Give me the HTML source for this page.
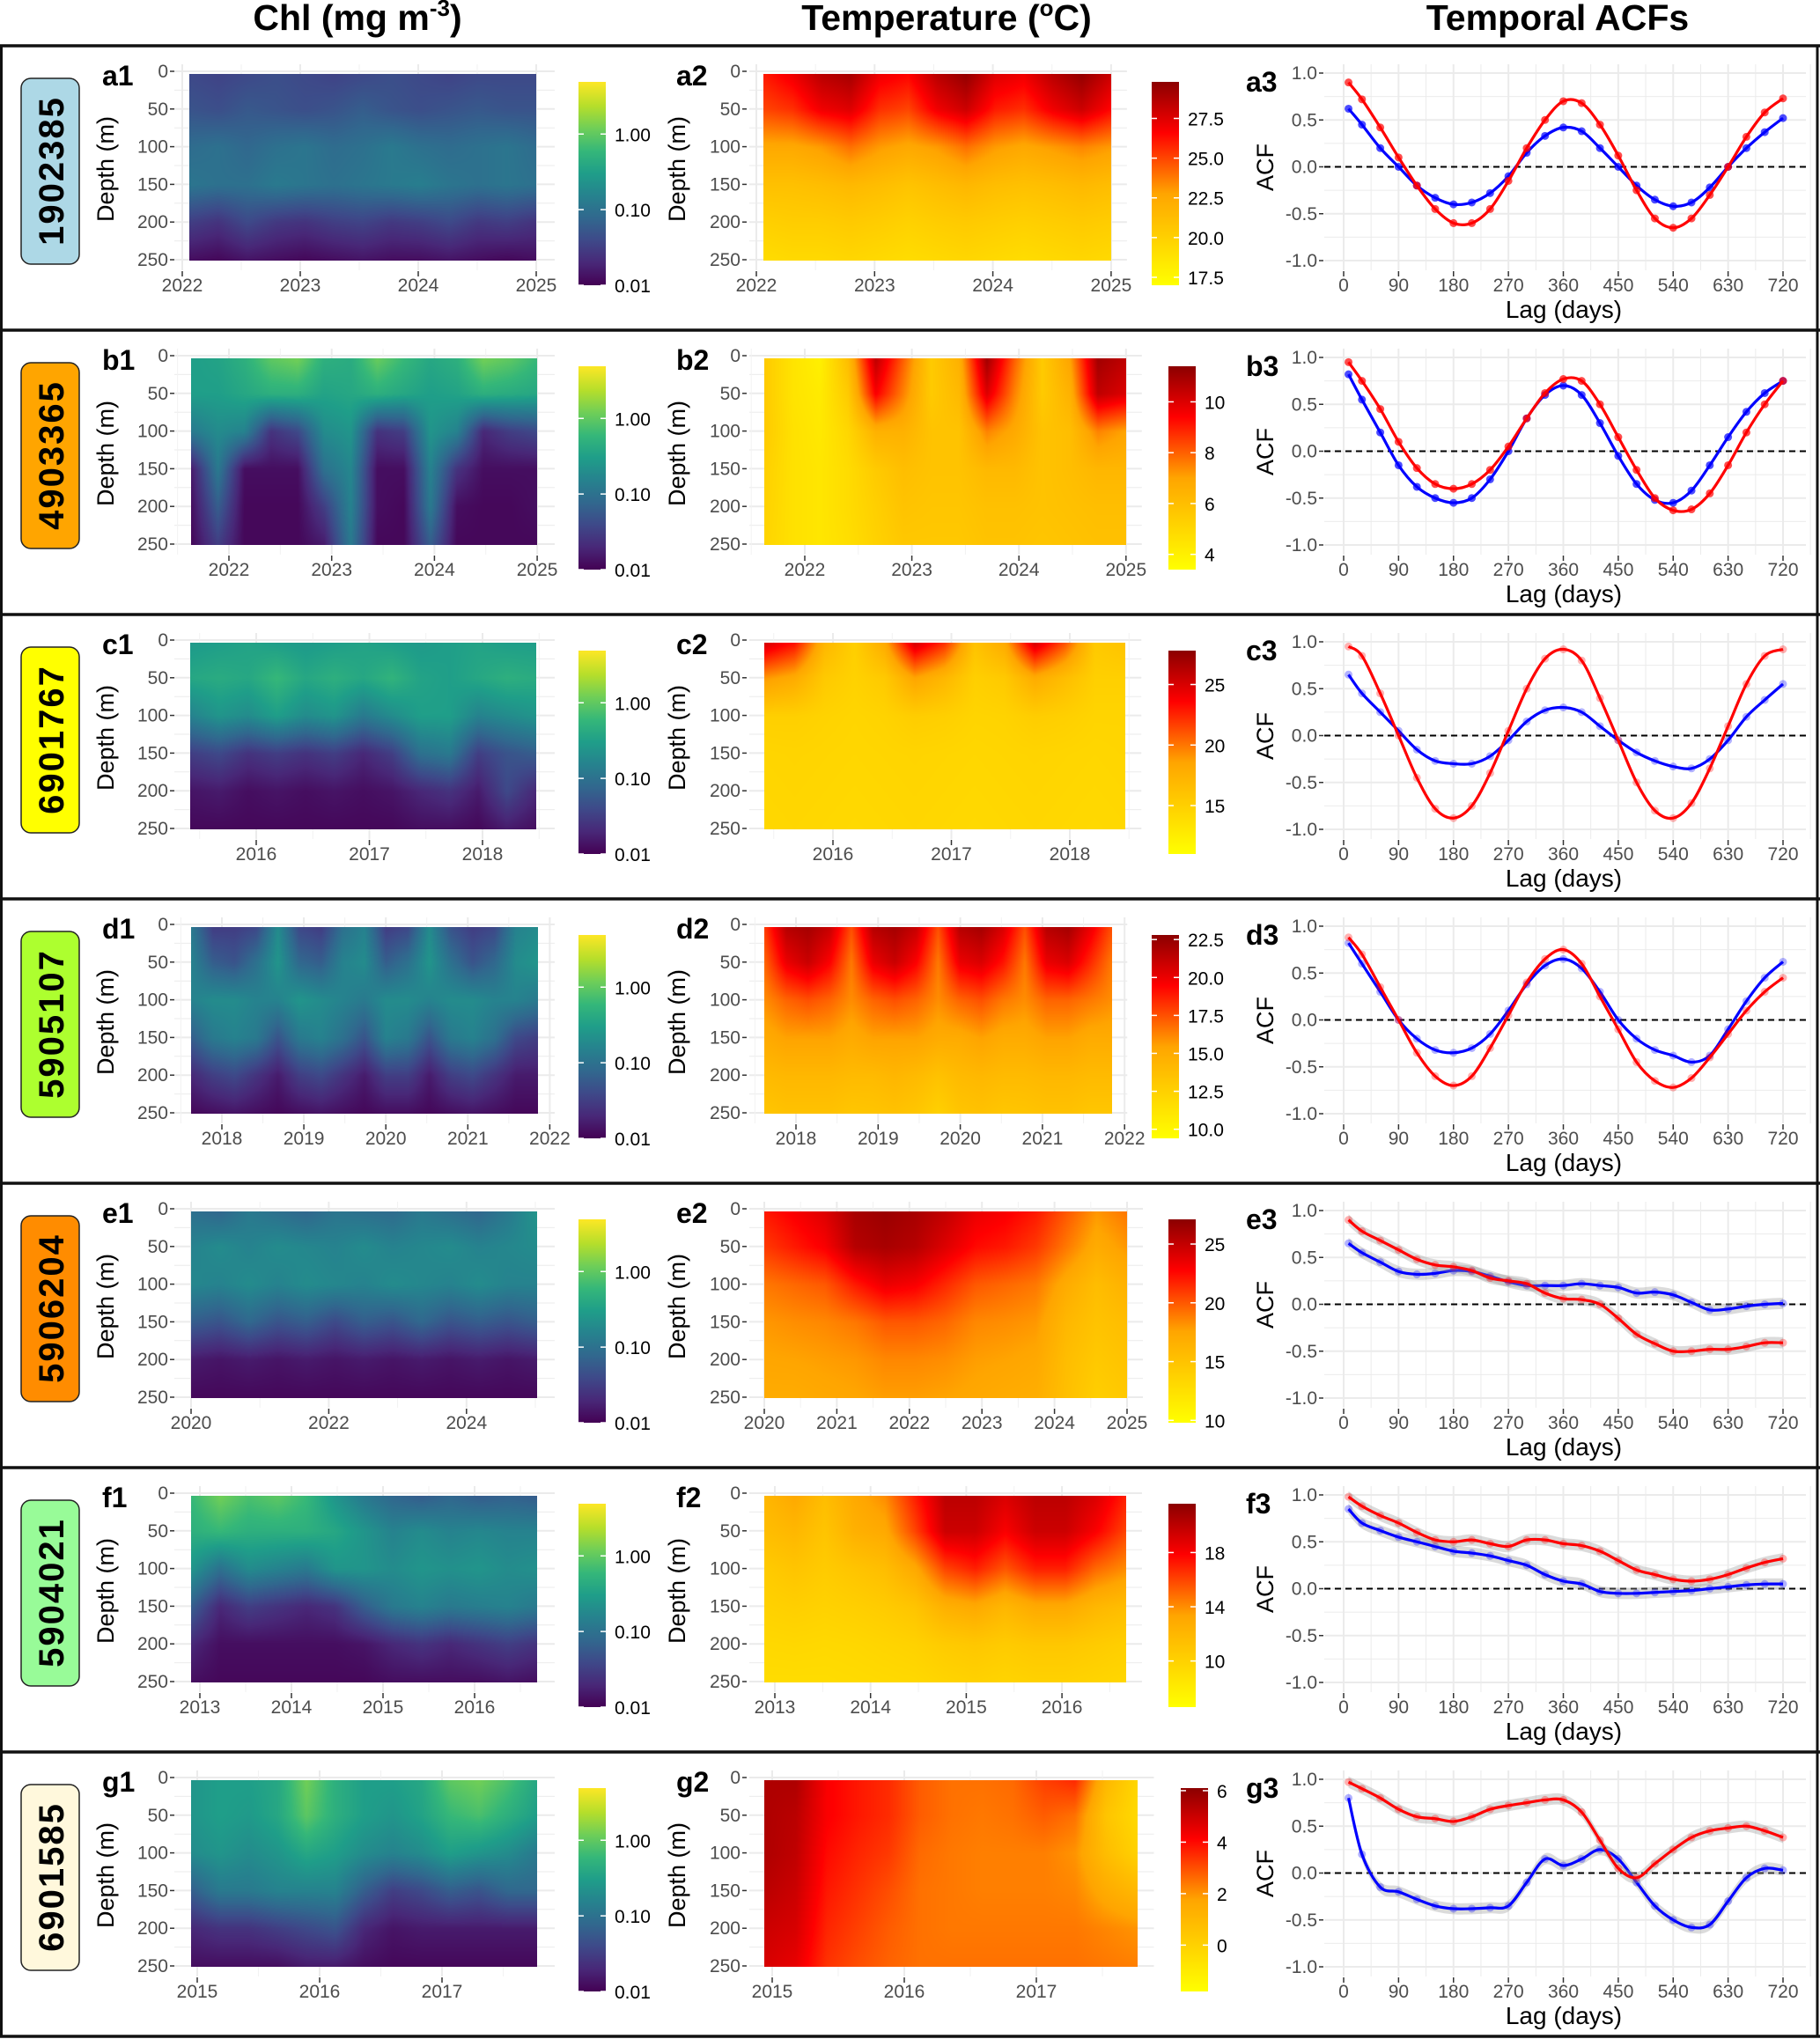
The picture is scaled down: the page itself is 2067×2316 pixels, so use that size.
<!DOCTYPE html>
<html><head><meta charset="utf-8">
<style>
html,body{margin:0;padding:0;background:#fff;}
#wrap{position:relative;width:2067px;height:2316px;overflow:hidden;font-family:"Liberation Sans",sans-serif;}
#fig{position:absolute;left:0;top:0;}
canvas{position:absolute;}
</style></head>
<body>
<div id="wrap">
<svg id="fig" width="2067" height="2316" xmlns="http://www.w3.org/2000/svg">
<defs>
<linearGradient id="gVir" x1="0" y1="1" x2="0" y2="0">
<stop offset="0" stop-color="#440154"/><stop offset="0.11" stop-color="#482878"/><stop offset="0.22" stop-color="#3e4989"/><stop offset="0.33" stop-color="#31688e"/><stop offset="0.44" stop-color="#26828e"/><stop offset="0.55" stop-color="#1f9e89"/><stop offset="0.66" stop-color="#35b779"/><stop offset="0.77" stop-color="#6ece58"/><stop offset="0.88" stop-color="#b5de2b"/><stop offset="1" stop-color="#fde725"/>
</linearGradient>
<linearGradient id="gHeat" x1="0" y1="1" x2="0" y2="0">
<stop offset="0" stop-color="#ffff00"/><stop offset="0.45" stop-color="#ffa500"/><stop offset="0.75" stop-color="#ff0000"/><stop offset="1" stop-color="#8b0000"/>
</linearGradient>
</defs>
<text x="406" y="34" text-anchor="middle" font-size="41" font-weight="bold">Chl (mg m<tspan font-size="26" dy="-16">-3</tspan><tspan dy="16">)</tspan></text>
<text x="1075" y="34" text-anchor="middle" font-size="41" font-weight="bold">Temperature (<tspan font-size="26" dy="-16">o</tspan><tspan dy="16">C)</tspan></text>
<text x="1769" y="34" text-anchor="middle" font-size="41" font-weight="bold">Temporal ACFs</text>
</svg>
</div>
<script>
// ---------- DATA ----------
const floatIds = ["1902385","4903365","6901767","5905107","5906204","5904021","6901585"];
const depthLevels = [5,50,100,150,200,250];
const chlA = [
[-1.4,-1.45,-1.4,-1.35,-1.4,-1.45,-1.4,-1.35,-1.4,-1.45,-1.4,-1.4,-1.4],
[-1.3,-1.35,-1.25,-1.3,-1.35,-1.3,-1.2,-1.3,-1.35,-1.3,-1.25,-1.3,-1.3],
[-1.05,-1.0,-1.1,-1.0,-0.95,-1.05,-1.0,-0.9,-1.0,-1.05,-1.0,-0.95,-1.05],
[-0.95,-1.0,-1.0,-0.9,-0.95,-1.0,-0.95,-0.9,-0.85,-0.95,-1.0,-0.95,-1.0],
[-1.5,-1.6,-1.4,-1.55,-1.6,-1.5,-1.45,-1.55,-1.5,-1.4,-1.55,-1.5,-1.6],
[-1.9,-1.95,-1.85,-1.9,-1.95,-1.9,-1.85,-1.9,-1.9,-1.85,-1.9,-1.95,-1.9]];
const chlB = [
[-0.5,-0.45,-0.3,0.0,0.1,-0.3,-0.35,0.05,-0.2,-0.4,-0.3,0.1,0.0,-0.2],
[-0.5,-0.5,-0.4,-0.3,-0.3,-0.45,-0.4,-0.3,-0.4,-0.5,-0.45,-0.3,-0.35,-0.4],
[-0.9,-0.7,-0.8,-1.6,-1.4,-0.7,-0.6,-1.6,-1.5,-0.6,-0.8,-1.7,-1.5,-1.4],
[-1.8,-0.9,-1.9,-1.9,-1.9,-1.0,-0.75,-1.9,-1.9,-0.8,-1.6,-1.9,-1.9,-1.9],
[-1.9,-1.2,-1.95,-1.95,-1.95,-1.5,-0.8,-1.9,-1.95,-0.9,-1.9,-1.95,-1.95,-1.9],
[-1.95,-1.5,-1.95,-1.95,-1.95,-1.8,-0.9,-1.95,-1.95,-1.2,-1.95,-1.95,-1.95,-1.95]];
const chlC = [
[-0.55,-0.5,-0.45,-0.5,-0.55,-0.5,-0.45,-0.5,-0.55,-0.5,-0.45,-0.5,-0.5],
[-0.4,-0.35,-0.4,-0.2,-0.4,-0.3,-0.4,-0.25,-0.45,-0.5,-0.4,-0.3,-0.35],
[-0.8,-0.6,-0.7,-0.5,-0.7,-0.6,-0.9,-0.7,-0.5,-0.5,-0.8,-0.7,-0.6],
[-1.5,-1.4,-1.6,-1.5,-1.6,-1.5,-1.7,-1.5,-1.0,-0.9,-1.5,-1.3,-1.2],
[-1.85,-1.8,-1.9,-1.85,-1.9,-1.85,-1.9,-1.85,-1.7,-1.6,-1.8,-1.4,-1.7],
[-1.95,-1.95,-1.95,-1.95,-1.95,-1.95,-1.95,-1.95,-1.9,-1.9,-1.95,-1.8,-1.9]];
const chlD = [
[-0.9,-1.5,-1.5,-1.4,-0.7,-1.4,-1.5,-1.0,-0.8,-1.5,-1.4,-0.7,-1.3,-1.5,-1.4,-0.8,-0.7],
[-0.8,-1.2,-1.3,-1.0,-0.6,-1.1,-1.2,-0.8,-0.7,-1.2,-1.0,-0.6,-1.0,-1.3,-1.1,-0.7,-0.6],
[-0.8,-0.7,-0.7,-0.8,-0.8,-0.6,-0.7,-0.8,-0.9,-0.7,-0.7,-0.8,-0.7,-0.7,-0.8,-0.8,-0.9],
[-1.2,-0.9,-0.8,-0.9,-1.3,-0.9,-0.8,-1.0,-1.3,-0.8,-0.9,-1.3,-0.9,-0.8,-1.0,-1.4,-1.5],
[-1.7,-1.5,-1.4,-1.6,-1.8,-1.5,-1.4,-1.6,-1.8,-1.5,-1.5,-1.8,-1.5,-1.4,-1.6,-1.8,-1.8],
[-1.95,-1.9,-1.85,-1.9,-1.95,-1.9,-1.85,-1.9,-1.95,-1.9,-1.9,-1.95,-1.9,-1.85,-1.9,-1.95,-1.95]];
const chlE = [
[-1.0,-1.1,-0.9,-1.0,-1.1,-0.95,-1.0,-1.05,-0.9,-1.0,-1.1,-0.9,-0.6],
[-0.8,-0.7,-0.8,-0.7,-0.75,-0.8,-0.7,-0.8,-0.75,-0.7,-0.8,-0.75,-0.7],
[-0.75,-0.8,-0.7,-0.8,-0.7,-0.75,-0.8,-0.7,-0.75,-0.8,-0.7,-0.8,-0.8],
[-1.2,-1.3,-1.1,-1.3,-1.2,-1.4,-1.2,-1.3,-1.1,-1.3,-1.2,-1.3,-1.2],
[-1.8,-1.85,-1.8,-1.85,-1.8,-1.85,-1.8,-1.85,-1.8,-1.85,-1.8,-1.85,-1.8],
[-1.95,-1.95,-1.95,-1.95,-1.95,-1.95,-1.95,-1.95,-1.95,-1.95,-1.95,-1.95,-1.95]];
const chlF = [
[-0.2,0.1,-0.1,0.0,-0.2,-0.6,-0.9,-1.1,-1.2,-1.1,-1.2,-1.15,-1.2],
[-0.3,-0.2,-0.3,-0.3,-0.3,-0.4,-0.6,-0.8,-0.7,-0.8,-0.75,-0.8,-0.8],
[-0.6,-1.0,-0.7,-0.8,-0.9,-0.6,-0.6,-0.7,-0.6,-0.65,-0.6,-0.7,-0.65],
[-1.2,-1.7,-1.5,-1.6,-1.7,-1.6,-1.2,-0.9,-0.8,-0.9,-0.85,-0.8,-0.9],
[-1.7,-1.9,-1.9,-1.9,-1.9,-1.9,-1.85,-1.7,-1.6,-1.7,-1.6,-1.5,-1.6],
[-1.9,-1.95,-1.95,-1.95,-1.95,-1.95,-1.95,-1.9,-1.9,-1.9,-1.9,-1.85,-1.9]];
const chlG = [
[-0.6,-0.5,-0.5,-0.4,0.1,-0.3,-0.5,-0.5,-0.4,0.0,0.1,-0.1,-0.4],
[-0.6,-0.5,-0.55,-0.4,0.0,-0.3,-0.5,-0.6,-0.45,-0.2,-0.1,-0.3,-0.5],
[-0.7,-0.6,-0.7,-0.6,-0.4,-0.5,-0.7,-0.8,-0.7,-0.5,-0.6,-0.7,-0.9],
[-1.2,-0.9,-0.9,-0.8,-0.8,-0.8,-1.2,-1.5,-1.4,-1.2,-1.3,-1.1,-1.1],
[-1.7,-1.6,-1.6,-1.5,-1.4,-1.3,-1.7,-1.85,-1.8,-1.8,-1.8,-1.8,-1.8],
[-1.9,-1.9,-1.9,-1.9,-1.8,-1.8,-1.9,-1.95,-1.95,-1.95,-1.95,-1.95,-1.95]];
const tempA = [
[26,27,28.5,29,27,26.5,28.5,29.5,27.5,27,28.5,29.5,28],
[25,25.5,27,27.5,25.5,25,27,28,26,25.5,27,28,26.5],
[22.5,22.5,23,24,23,22.5,23,24,23,22.5,23,23.5,23],
[21,21,21.2,21.5,21.2,20.8,21.2,21.6,21.2,21,21.2,21.5,21.2],
[20,20.2,20.2,20.4,20.2,19.9,20.2,20.4,20.2,20,20.2,20.4,20.2],
[19.2,19.4,19.4,19.6,19.4,19.2,19.4,19.6,19.4,19.2,19.4,19.6,19.4]];
const tempB = [
[5.5,4.5,4.0,6.0,10.5,8,5.5,6.5,11,8,5.5,7,11,10.5],
[5.5,4.5,4.2,5.5,9.5,7.5,5.5,6.2,10,7.5,5.5,6.5,10.5,10],
[5.5,4.6,4.3,5.0,6.5,6.5,5.8,5.8,7.5,6.8,5.8,6.0,7.5,7],
[5.3,4.6,4.4,4.8,5.5,6,5.8,5.8,6.2,6.2,5.8,6.0,6.3,6.3],
[5.2,4.6,4.4,4.8,5.3,5.8,5.7,5.7,5.9,5.9,5.8,5.9,6.0,6.0],
[5.1,4.6,4.4,4.7,5.2,5.6,5.6,5.6,5.8,5.8,5.7,5.8,5.9,5.9]];
const tempC = [
[25,23,17,15,18,25,22,16,18,25,21,15.5,16],
[19,18,15.5,14.8,15.5,18.5,17,15,15.5,18,16.5,15,15],
[15,15,14.7,14.5,14.7,15.2,15,14.6,14.7,15.2,15,14.6,14.6],
[14.5,14.6,14.5,14.4,14.5,14.6,14.5,14.4,14.5,14.6,14.5,14.4,14.5],
[14.4,14.5,14.4,14.3,14.4,14.5,14.4,14.3,14.4,14.5,14.4,14.3,14.4],
[14.3,14.4,14.3,14.2,14.3,14.4,14.3,14.2,14.3,14.4,14.3,14.2,14.3]];
const tempD = [
[18,21.5,22,21,17.5,21.5,22,21,17.5,21.5,22,20.5,17.5,21.5,22,20,17.5],
[17,20,21,19.5,16.5,20,21,19.5,16.5,20,20.5,19,16.5,20,20.5,18.5,16.5],
[16,17,17.5,17,16,17,17.5,17,16,17,17.5,16.5,16,17,17,16.5,16],
[15,15.5,15.5,15.5,15,15.5,15.5,15.5,15,15,15.5,15,15,15.5,15.5,15,15],
[14,14.2,14.2,14.2,14,14,14.3,14,13.5,14,14.2,14,14,14.2,14.2,14,14],
[13.2,13.5,13.5,13.5,13.2,13.3,13.5,13.2,12.5,13.3,13.5,13.2,13.3,13.5,13.5,13.2,13.2]];
const tempE = [
[22,23,24,26,26.5,26,25,23.5,23,22,20,18,19],
[21,22,23,25.5,26,25.5,24,22.5,22,21,19,17,18],
[19,19.5,20,22,23.5,23,21.5,20,19.5,19,17,15.5,16.5],
[18,18.3,18.5,19,20,20,19.5,18.5,18.3,18,16,15,15.5],
[17.5,17.6,17.8,18,18.5,18.5,18.3,17.8,17.6,17.3,15.5,14.5,15],
[17,17,17.3,17.5,17.8,17.8,17.6,17.3,17,16.8,15.3,14,14.5]];
const tempF = [
[12,13,11.5,13,14,17,20,20,19,20,20,19,17],
[11.5,12,11,12.5,13,16,19.5,19.5,18,19.5,19.5,18,16],
[10.5,11,10.5,11,11.5,13,16,17,15.5,17,17,15,14],
[10,10.2,10,10.2,10.5,11,12.5,13,12,13,13,12,11.5],
[9.5,9.6,9.5,9.6,9.8,10,10.5,10.8,10.5,10.8,10.8,10.5,10.2],
[9.2,9.2,9.2,9.3,9.4,9.5,9.8,10,9.8,10,10,9.8,9.6]];
const tempG = [
[5.5,5.5,4.2,3.8,3.5,2.8,2.5,2.5,2.6,3.2,3.5,1.0,-0.2],
[5.5,5.3,4.2,3.8,3.5,2.8,2.5,2.4,2.5,2.8,2.5,0.5,-0.3],
[5.5,5.2,4.0,3.6,3.3,2.6,2.4,2.3,2.3,2.3,2.0,0.8,0.0],
[5.3,5.0,3.8,3.4,3.0,2.5,2.4,2.3,2.3,2.3,2.2,1.5,1.0],
[5.0,4.8,3.6,3.2,2.8,2.5,2.4,2.4,2.4,2.4,2.4,2.2,2.0],
[4.8,4.5,3.4,3.0,2.7,2.5,2.5,2.5,2.5,2.5,2.5,2.4,2.3]];
const chlGrids = [chlA,chlB,chlC,chlD,chlE,chlF,chlG];
const tempGrids = [tempA,tempB,tempC,tempD,tempE,tempF,tempG];
const chlPeriods = [[2022.06,2025.0],[2021.63,2025.0],[2015.42,2018.48],[2017.62,2021.85],[2020.0,2025.02],[2012.9,2016.68],[2014.95,2017.78]];
const tempPeriods = [[2022.06,2025.0],[2021.62,2025.0],[2015.42,2018.47],[2017.61,2021.84],[2020.0,2025.0],[2012.89,2016.67],[2014.94,2017.77]];
const chlYearTicks = [[2022,2023,2024,2025],[2022,2023,2024,2025],[2016,2017,2018],[2018,2019,2020,2021,2022],[2020,2022,2024],[2013,2014,2015,2016],[2015,2016,2017]];
const tempYearTicks = [[2022,2023,2024,2025],[2022,2023,2024,2025],[2016,2017,2018],[2018,2019,2020,2021,2022],[2020,2021,2022,2023,2024,2025],[2013,2014,2015,2016],[2015,2016,2017]];
const tempLimits = [[17.0,29.8],[3.4,11.4],[11.0,27.8],[9.4,22.8],[9.8,27.1],[6.6,21.6],[-1.8,6.1]];
const tempTicks = [[17.5,20,22.5,25,27.5],[4,6,8,10],[15,20,25],[10,12.5,15,17.5,20,22.5],[10,15,20,25],[10,14,18],[0,2,4,6]];
const tempTickDecimals = [1,0,0,1,0,0,0];
const chlTicks = [-2,-1,0];
const chlTickLabels = ["0.01","0.10","1.00"];
const chlLimits = [-2,0.69];
const lags = [8,30,60,90,120,150,180,210,240,270,300,330,360,390,420,450,480,510,540,570,600,630,660,690,720];
const acfRed = [
[0.9,0.72,0.42,0.1,-0.2,-0.45,-0.6,-0.6,-0.45,-0.15,0.2,0.5,0.7,0.68,0.45,0.12,-0.25,-0.55,-0.65,-0.55,-0.3,0.0,0.32,0.58,0.73],
[0.95,0.75,0.45,0.1,-0.18,-0.35,-0.4,-0.35,-0.2,0.05,0.35,0.62,0.77,0.75,0.5,0.15,-0.2,-0.5,-0.63,-0.62,-0.45,-0.15,0.2,0.5,0.75],
[0.95,0.85,0.45,0.0,-0.45,-0.78,-0.88,-0.75,-0.4,0.05,0.5,0.82,0.92,0.8,0.4,-0.05,-0.5,-0.8,-0.88,-0.72,-0.35,0.1,0.55,0.85,0.92],
[0.88,0.7,0.35,0.0,-0.35,-0.6,-0.7,-0.6,-0.3,0.05,0.4,0.65,0.75,0.6,0.25,-0.1,-0.45,-0.65,-0.72,-0.62,-0.4,-0.15,0.1,0.3,0.45],
[0.9,0.78,0.68,0.58,0.48,0.42,0.4,0.36,0.28,0.25,0.22,0.12,0.06,0.05,0.0,-0.15,-0.32,-0.42,-0.5,-0.5,-0.48,-0.48,-0.45,-0.41,-0.41],
[0.98,0.88,0.78,0.7,0.6,0.52,0.5,0.52,0.48,0.45,0.52,0.52,0.48,0.46,0.4,0.3,0.2,0.15,0.1,0.08,0.1,0.15,0.22,0.28,0.32],
[0.97,0.9,0.8,0.68,0.6,0.58,0.55,0.6,0.68,0.72,0.75,0.78,0.78,0.65,0.35,0.05,-0.05,0.1,0.25,0.38,0.45,0.48,0.5,0.45,0.38]];
const acfBlue = [
[0.62,0.45,0.2,0.0,-0.2,-0.33,-0.4,-0.38,-0.28,-0.1,0.15,0.33,0.42,0.38,0.2,0.0,-0.2,-0.35,-0.42,-0.38,-0.22,0.0,0.2,0.37,0.52],
[0.82,0.55,0.2,-0.15,-0.38,-0.5,-0.55,-0.5,-0.3,0.0,0.35,0.6,0.7,0.6,0.3,-0.05,-0.35,-0.52,-0.55,-0.42,-0.15,0.15,0.42,0.62,0.75],
[0.65,0.45,0.25,0.05,-0.15,-0.27,-0.3,-0.3,-0.22,-0.05,0.15,0.27,0.3,0.25,0.1,-0.05,-0.18,-0.27,-0.33,-0.35,-0.25,-0.05,0.2,0.38,0.55],
[0.82,0.6,0.3,0.0,-0.2,-0.32,-0.35,-0.3,-0.15,0.1,0.38,0.58,0.65,0.55,0.3,0.0,-0.2,-0.32,-0.38,-0.45,-0.38,-0.1,0.2,0.45,0.62],
[0.65,0.55,0.45,0.35,0.32,0.33,0.36,0.35,0.3,0.24,0.2,0.2,0.2,0.22,0.2,0.18,0.12,0.13,0.1,0.02,-0.06,-0.05,-0.02,0.0,0.01],
[0.85,0.7,0.62,0.55,0.5,0.45,0.4,0.38,0.35,0.3,0.25,0.15,0.08,0.05,-0.03,-0.05,-0.05,-0.04,-0.03,-0.02,0.0,0.02,0.04,0.05,0.05],
[0.8,0.2,-0.15,-0.2,-0.28,-0.35,-0.38,-0.38,-0.37,-0.35,-0.1,0.15,0.08,0.15,0.25,0.15,-0.1,-0.35,-0.5,-0.58,-0.55,-0.3,-0.05,0.05,0.03]];
const acfXTicks = [0,90,180,270,360,450,540,630,720];
const acfYTicks = [-1,-0.5,0,0.5,1];
const acfYLabels = ["-1.0","-0.5","0.0","0.5","1.0"];
</script>
<script>
const rowColors = ["#add8e6","#ffa500","#ffff00","#adff2f","#ff8c00","#98fb98","#fff8dc"];
const letters = ["a","b","c","d","e","f","g"];
const chlAxis = [[2022,207,134],[2022,260,116.7],[2016,291,128.5],[2018,252,93.1],[2020,217,78.2],[2013,227,104],[2015,224,139]];
const tempAxis = [[2022,859,134.3],[2022,914,121.6],[2016,946,134.5],[2018,904,93.3],[2020,868,82.4],[2013,880,108.7],[2015,877,150]];
const tempCbX = [1308,1327,1327,1308,1327,1327,1341];
const ROW0 = 52, ROWH = 323;
const NS = 'http://www.w3.org/2000/svg';
const svg = document.getElementById('fig');
const wrap = document.getElementById('wrap');
function mk(tag, attrs, parent){const e=document.createElementNS(NS,tag);for(const k in attrs)e.setAttribute(k,attrs[k]);(parent||svg).appendChild(e);return e;}
function tx(x,y,s,attrs,parent){const e=mk('text',Object.assign({x:x,y:y},attrs),parent);e.textContent=s;return e;}
const depthY = (top,d)=> top+29+d*0.856;
function hex(h){return [parseInt(h.substr(1,2),16),parseInt(h.substr(3,2),16),parseInt(h.substr(5,2),16)];}
const virStops = ["#440154","#482878","#3e4989","#31688e","#26828e","#1f9e89","#35b779","#6ece58","#b5de2b","#fde725"].map(hex);
const heatStops = [[0,hex("#ffff00")],[0.45,hex("#ffa500")],[0.75,hex("#ff0000")],[1,hex("#8b0000")]];
function vir(f){f=Math.max(0,Math.min(1,f));const p=f*9,i=Math.min(8,Math.floor(p)),r=p-i;const a=virStops[i],b=virStops[i+1];return [a[0]+(b[0]-a[0])*r,a[1]+(b[1]-a[1])*r,a[2]+(b[2]-a[2])*r];}
function heat(f){f=Math.max(0,Math.min(1,f));for(let i=0;i<3;i++){const s0=heatStops[i],s1=heatStops[i+1];if(f<=s1[0]){const r=(f-s0[0])/(s1[0]-s0[0]);return [s0[1][0]+(s1[1][0]-s0[1][0])*r,s0[1][1]+(s1[1][1]-s0[1][1])*r,s0[1][2]+(s1[1][2]-s0[1][2])*r];}}return heatStops[3][1];}
function sample(grid,fc,d){
  const nc=grid[0].length;let c=fc*(nc-1);const c0=Math.min(nc-2,Math.floor(c)),cr=c-c0;
  let r0=0;while(r0<depthLevels.length-2&&d>depthLevels[r0+1])r0++;
  let rr=(d-depthLevels[r0])/(depthLevels[r0+1]-depthLevels[r0]);rr=Math.max(0,Math.min(1,rr));
  const a=grid[r0][c0]*(1-cr)+grid[r0][c0+1]*cr,b=grid[r0+1][c0]*(1-cr)+grid[r0+1][c0+1]*cr;return a*(1-rr)+b*rr;}
function drawHeat(grid,x0,x1,top,cmap,lo,hi,name){
  const y0=top+32,y1=top+244,w=Math.round(x1-x0),h=y1-y0;
  const cv=document.createElement('canvas');
  
  
  cv.width=w;cv.height=h;cv.style.left=Math.round(x0)+'px';cv.style.top=y0+'px';
  const ctx=cv.getContext('2d');const img=ctx.createImageData(w,h);
  for(let py=0;py<h;py++){const d=(y0+py-top-29)/0.856;for(let px=0;px<w;px++){const v=sample(grid,px/(w-1),d);const c=cmap((v-lo)/(hi-lo));const k=(py*w+px)*4;img.data[k]=c[0];img.data[k+1]=c[1];img.data[k+2]=c[2];img.data[k+3]=255;}}
  ctx.putImageData(img,0,0);wrap.appendChild(cv);}
function gridPanel(g,x0,x1,top,xt,xs){
  for(let d=0;d<=250;d+=25){mk('line',{x1:x0,x2:x1,y1:depthY(top,d),y2:depthY(top,d),stroke:'#ebebeb','stroke-width':d%50===0?2:1},g);}
  for(let i=0;i<xt.length;i++){const x=xs(xt[i]);if(x>=x0&&x<=x1)mk('line',{x1:x,x2:x,y1:top+21,y2:top+255,stroke:'#ebebeb','stroke-width':2},g);
    const xm=xs(xt[i]+(xt.length>1?(xt[1]-xt[0])/2:0.5));if(xm>=x0&&xm<=x1)mk('line',{x1:xm,x2:xm,y1:top+21,y2:top+255,stroke:'#f2f2f2','stroke-width':1},g);
    const xm2=xs(xt[0]-(xt.length>1?(xt[1]-xt[0])/2:0.5));if(i===0&&xm2>=x0)mk('line',{x1:xm2,x2:xm2,y1:top+21,y2:top+255,stroke:'#f2f2f2','stroke-width':1},g);}
}
function depthAxis(g,xr,top,titleX){
  for(const d of [0,50,100,150,200,250]){const y=depthY(top,d);tx(xr-6,y+7,String(d),{'text-anchor':'end','font-size':21,fill:'#4d4d4d'},g);mk('line',{x1:xr-4,x2:xr+1,y1:y,y2:y,stroke:'#333','stroke-width':1.5},g);}
  tx(titleX,top+140,'Depth (m)',{'text-anchor':'middle','font-size':27,transform:`rotate(-90 ${titleX} ${top+140})`},g);
}
function yearAxis(g,ticks,xs,top){for(const t of ticks){const x=xs(t);mk('line',{x1:x,x2:x,y1:top+256,y2:top+262,stroke:'#333','stroke-width':1.5},g);tx(x,top+279,String(t),{'text-anchor':'middle','font-size':21,fill:'#4d4d4d'},g);}}
function smoothPath(pts){let d=`M${pts[0][0]},${pts[0][1]}`;for(let i=0;i<pts.length-1;i++){const p0=pts[Math.max(0,i-1)],p1=pts[i],p2=pts[i+1],p3=pts[Math.min(pts.length-1,i+2)];d+=` C${p1[0]+(p2[0]-p0[0])/6},${p1[1]+(p2[1]-p0[1])/6} ${p2[0]-(p3[0]-p1[0])/6},${p2[1]-(p3[1]-p1[1])/6} ${p2[0]},${p2[1]}`;}return d;}

for(let i=0;i<7;i++){
  const top=ROW0+i*ROWH, L=letters[i];
  const row=mk('g',{});
  
  
  const box=mk('rect',{x:24,y:top+37,width:66,height:211,rx:11,fill:rowColors[i],stroke:'#222','stroke-width':1.5},row);
  
  
  const lab=tx(59,top+142,floatIds[i],{'text-anchor':'middle','dominant-baseline':'central','font-size':40,'font-weight':'bold','letter-spacing':2,transform:`rotate(-90 59 ${top+142})`},row);
  
  
  const ca=chlAxis[i], cxs=t=>ca[1]+(t-ca[0])*ca[2];
  const gc=mk('g',{},row);
  
  
  gridPanel(gc,198,630,top,chlYearTicks[i],cxs);
  depthAxis(gc,197,top,129);
  yearAxis(gc,chlYearTicks[i],cxs,top);
  const pl1=tx(116,top+45,L+'1',{'font-size':32,'font-weight':'bold'},gc);
  
  
  drawHeat(chlGrids[i],cxs(chlPeriods[i][0]),cxs(chlPeriods[i][1]),top,vir,chlLimits[0],chlLimits[1],'chl-heatmap');
  const cb=mk('rect',{x:657,y:top+41,width:31,height:231,fill:'url(#gVir)'},gc);
  
  
  for(let k=0;k<chlTicks.length;k++){const y=top+272-(chlTicks[k]-chlLimits[0])/(chlLimits[1]-chlLimits[0])*231;mk('line',{x1:657,x2:663,y1:y,y2:y,stroke:'#fff','stroke-width':1.5},gc);mk('line',{x1:682,x2:688,y1:y,y2:y,stroke:'#fff','stroke-width':1.5},gc);tx(698,y+8,chlTickLabels[k],{'font-size':21},gc);}
  const ta=tempAxis[i], txs=t=>ta[1]+(t-ta[0])*ta[2];
  const hx1=txs(tempPeriods[i][1]);
  const gt=mk('g',{},row);
  
  
  gridPanel(gt,851,hx1+18,top,tempYearTicks[i],txs);
  depthAxis(gt,847,top,778);
  yearAxis(gt,tempYearTicks[i],txs,top);
  const pl2=tx(768,top+45,L+'2',{'font-size':32,'font-weight':'bold'},gt);
  
  
  const lim=tempLimits[i];
  drawHeat(tempGrids[i],txs(tempPeriods[i][0]),hx1,top,heat,lim[0],lim[1],'temperature-heatmap');
  const cbx=tempCbX[i];
  const tb=mk('rect',{x:cbx,y:top+41,width:31,height:231,fill:'url(#gHeat)'},gt);
  
  
  for(const v of tempTicks[i]){const y=top+272-(v-lim[0])/(lim[1]-lim[0])*231;mk('line',{x1:cbx,x2:cbx+6,y1:y,y2:y,stroke:'#fff','stroke-width':1.5},gt);mk('line',{x1:cbx+25,x2:cbx+31,y1:y,y2:y,stroke:'#fff','stroke-width':1.5},gt);tx(cbx+41,y+8,v.toFixed(tempTickDecimals[i]),{'font-size':21},gt);}
  const ax=l=>1526+l*499/720, ay=v=>top+31+(1-v)*106.5;
  const ga=mk('g',{},row);
  
  
  for(let v=-1;v<=1.001;v+=0.25){mk('line',{x1:1504,x2:2051,y1:ay(v),y2:ay(v),stroke:'#ebebeb','stroke-width':Math.abs(v*2-Math.round(v*2))<0.01?2:1},ga);}
  for(let l=0;l<=765;l+=45){mk('line',{x1:ax(l),x2:ax(l),y1:top+21,y2:top+255,stroke:'#ebebeb','stroke-width':l%90===0?2:1},ga);}
  for(let k=0;k<acfYTicks.length;k++){const y=ay(acfYTicks[k]);tx(1496,y+7,acfYLabels[k],{'text-anchor':'end','font-size':21,fill:'#4d4d4d'},ga);mk('line',{x1:1498,x2:1503,y1:y,y2:y,stroke:'#333','stroke-width':1.5},ga);}
  for(const l of acfXTicks){const x=ax(l);mk('line',{x1:x,x2:x,y1:top+256,y2:top+262,stroke:'#333','stroke-width':1.5},ga);tx(x,top+279,String(l),{'text-anchor':'middle','font-size':21,fill:'#4d4d4d'},ga);}
  const zl=mk('line',{x1:1504,x2:2051,y1:ay(0),y2:ay(0),stroke:'#000','stroke-width':2,'stroke-dasharray':'7,5'},ga);
  
  
  const series=[[acfBlue[i],'#0000ff','acf-chl-line'],[acfRed[i],'#ff0000','acf-temperature-line']];
  for(const [vals,col,nm] of series){
    const pts=vals.map((v,k)=>[ax(lags[k]),ay(v)]);
    if(i>=4){const up=vals.map((v,k)=>[ax(lags[k]),ay(v+0.06)]),dn=vals.map((v,k)=>[ax(lags[k]),ay(v-0.06)]).reverse();
      const rib=mk('path',{d:smoothPath(up)+' L'+smoothPath(dn).slice(1)+' Z',fill:'#999','fill-opacity':0.35},ga);
      
      }
    for(const p of pts){const c=mk('circle',{cx:p[0],cy:p[1],r:4.5,fill:col,'fill-opacity':i>=2?0.3:0.7},ga);
      
      }
    const ln=mk('path',{d:smoothPath(pts),fill:'none',stroke:col,'stroke-width':3.2},ga);
    
    
  }
  tx(1437,top+138,'ACF',{'text-anchor':'middle','dominant-baseline':'central','font-size':27,transform:`rotate(-90 1437 ${top+138})`},ga);
  tx(1776,top+309,'Lag (days)',{'text-anchor':'middle','font-size':28},ga);
  const pl3=tx(1415,top+52,L+'3',{'font-size':32,'font-weight':'bold'},ga);
  
  
}
for(let i=0;i<=7;i++){const y=ROW0+i*ROWH;const s=mk('line',{x1:0,x2:2067,y1:y,y2:y,stroke:'#111','stroke-width':3.5});
  
  }
const fl=mk('line',{x1:1.5,x2:1.5,y1:ROW0,y2:ROW0+7*ROWH,stroke:'#111','stroke-width':3});


const fr=mk('line',{x1:2064,x2:2064,y1:ROW0,y2:ROW0+7*ROWH,stroke:'#111','stroke-width':3});


</script>
</body></html>
